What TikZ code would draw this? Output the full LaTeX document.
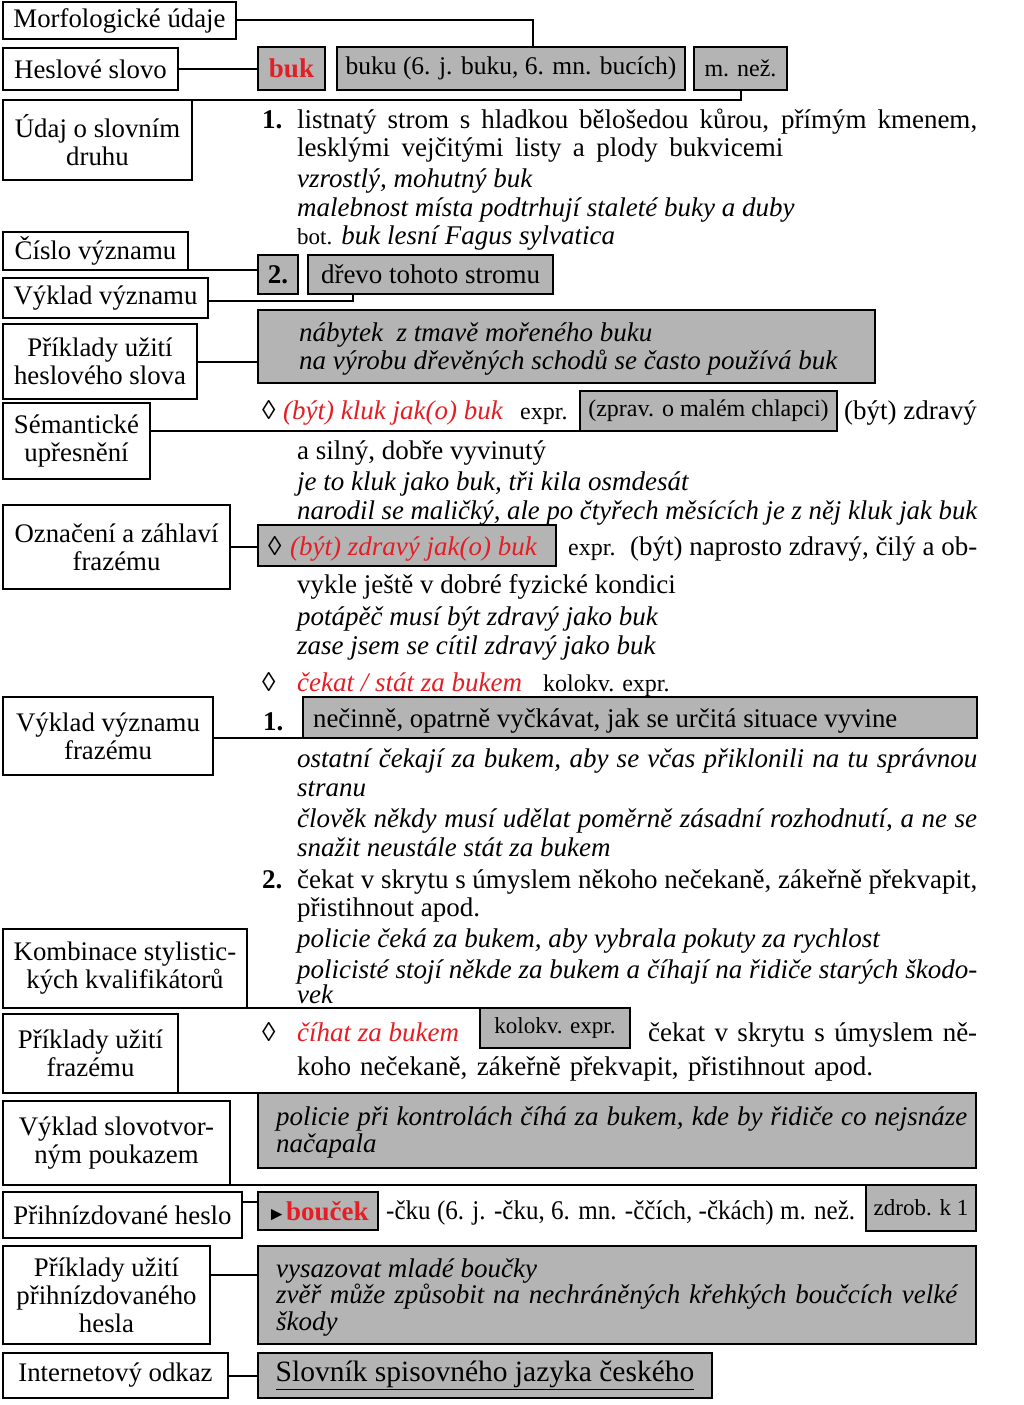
\documentclass[tikz,border=0pt]{standalone}
\usepackage{fontspec}
\setmainfont{Liberation Serif}
\usepackage{graphicx}
\usetikzlibrary{calc}
\definecolor{gr}{RGB}{180,180,180}
\definecolor{rd}{RGB}{228,30,36}
\newcommand\fitto[2]{\setbox0=\hbox{#2}\ifdim\wd0<#1\relax\makebox[#1][s]{#2}\else\resizebox{#1}{\height}{\copy0}\fi}
\newcommand\lbox[6]{\pgfmathsetmacro\ww{#4-#2}\pgfmathsetmacro\hh{#5-#3}\node[lab,minimum width=\ww pt,minimum height=\hh pt] (#1) at (#2,#3) {#6};}
\newcommand\gbox[6]{\pgfmathsetmacro\ww{#4-#2}\pgfmathsetmacro\hh{#5-#3}\node[gb,minimum width=\ww pt,minimum height=\hh pt] (#1) at (#2,#3) {#6};}
\tikzset{
  lab/.style={draw, line width=2pt, fill=white, align=center, inner sep=0pt, outer sep=0pt, font=\fontsize{26.8}{28}\selectfont, anchor=north west},
  gb/.style={draw, line width=2.2pt, fill=gr, inner sep=0pt, outer sep=0pt, anchor=north west, font=\fontsize{27}{29}\selectfont},
  conn/.style={line width=2pt},
  tx/.style={anchor=base west, inner sep=0pt, font=\fontsize{27}{29}\selectfont},
  txe/.style={anchor=base east, inner sep=0pt, font=\fontsize{27}{29}\selectfont},
  sm/.style={font=\fontsize{24}{26}\selectfont},
  it/.style={font=\fontsize{27}{29}\selectfont\itshape},
  red/.style={text=rd}
}
\begin{document}
\begin{tikzpicture}[x=1pt,y=-1pt]
\fill[white] (0,0) rectangle (1024,1405);
\useasboundingbox (0,0) rectangle (1024,1405);

% ---------- label boxes ----------
\lbox{morf}{3}{2}{236}{39}{Morfologické údaje}
\lbox{hesl}{3}{48}{178}{90}{Heslové slovo}
\lbox{udaj}{3}{100}{192}{180}{Údaj o slovním\\druhu}
\lbox{cislo}{3}{232}{188}{270}{Číslo významu}
\lbox{vykl}{3}{278}{208}{318}{Výklad významu}
\lbox{prik}{3}{324}{197}{399}{Příklady užití\\heslového slova}
\lbox{sem}{3}{403}{150}{479}{Sémantické\\upřesnění}
\lbox{ozn}{3}{505}{230}{589}{Označení a záhlaví\\frazému}
\lbox{vyklf}{3}{697}{213}{775}{Výklad významu\\frazému}
\lbox{komb}{3}{929}{247}{1008}{Kombinace stylistic-\\kých kvalifikátorů}
\lbox{prikf}{3}{1014}{178}{1093}{Příklady užití\\frazému}
\lbox{slovot}{3}{1101}{230}{1185}{Výklad slovotvor-\\ným poukazem}
\lbox{prihn}{3}{1192}{242}{1238}{Přihnízdované heslo}
\lbox{prikp}{3}{1246}{210}{1344}{Příklady užití\\přihnízdovaného\\hesla}
\lbox{inet}{3}{1353}{228}{1398}{Internetový odkaz}

% ---------- grey boxes ----------
\gbox{gbuk}{258}{47}{325}{90}{\textbf{\color{rd}buk}}
\gbox{gbuku}{337}{47}{685}{90}{\fontsize{25.5}{27}\selectfont buku (6. j. buku, 6. mn. bucích)}
\gbox{gmnez}{694}{47}{787}{90}{\fontsize{24}{26}\selectfont m. než.}
\gbox{gdva}{258}{255}{298}{294}{\textbf{2.}}
\gbox{gdrevo}{308}{255}{553}{294}{dřevo tohoto stromu}
\gbox{gnab}{258}{310}{875}{383}{}
\gbox{gzprav}{580}{391}{837}{431}{\fontsize{24}{26}\selectfont (zprav. o malém chlapci)}
\gbox{gzdrav}{258}{525}{556}{566}{}
\gbox{gnec}{303}{697}{977}{738}{}
\gbox{gkol}{480}{1008}{630}{1048}{\fontsize{23}{25}\selectfont kolokv. expr.}
\gbox{gpol}{258}{1093}{976}{1168}{}
\gbox{gbou}{258}{1192}{378}{1230}{{\fontsize{19}{20}\selectfont ►}\textbf{\color{rd}bouček}}
\gbox{gzdrob}{866}{1185}{976}{1231}{\fontsize{23}{25}\selectfont zdrob. k 1}
\gbox{gvys}{258}{1246}{976}{1344}{}
\gbox{gslov}{258}{1353}{712}{1398}{\fontsize{29.5}{31}\selectfont\underline{Slovník spisovného jazyka českého}}

% ---------- connectors ----------
\draw[conn] (morf.east) -| ([xshift=196pt]gbuku.north west);
\draw[conn] (hesl.east) -- (hesl.east -| gbuk.west);
\draw[conn] (udaj.north east) -| (gmnez.south);
\draw[conn] (cislo.south east) -- (cislo.south east -| gdva.west);
\draw[conn] ([yshift=-3pt]vykl.east) -| ([xshift=45pt]gdrevo.south west);
\draw[conn] (prik.east) -- (prik.east -| gnab.west);
\draw[conn] (gzprav.south west) -- (gzprav.south west -| sem.east);
\draw[conn] (ozn.east) -- (ozn.east -| gzdrav.west);
\draw[conn] (gnec.south west) -- (gnec.south west -| vyklf.east);
\draw[conn] (komb.south east) -- (gkol.north west);
\draw[conn] (prikf.south east) -- (gpol.north west);
\draw[conn] (slovot.south east) -- (gzdrob.north west);
\draw[conn] ([yshift=9pt]gbou.west) -- ([yshift=9pt]gbou.west -| prihn.east);
\draw[conn] ([yshift=20pt]gvys.west) -- ([yshift=20pt]gvys.west -| prikp.east);
\draw[conn] (inet.east) -- (inet.east -| gslov.west);

% ---------- sense 1 ----------
\node[tx] (a1) at (262,128) {\textbf{1.}};
\node[tx] (a2) at (297,128) {\fitto{680pt}{listnatý strom s hladkou bělošedou kůrou, přímým kmenem,}};
\node[tx] (a3) at (297,156) {\fitto{486pt}{lesklými vejčitými listy a plody bukvicemi}};
\node[tx,it] (a4) at (297,187) {vzrostlý, mohutný buk};
\node[tx,it] (a5) at (297,216) {malebnost místa podtrhují staleté buky a duby};
\node[tx] (a6) at (297,244) {{\fontsize{23}{25}\selectfont bot.} \textit{buk lesní Fagus sylvatica}};

% ---------- sense 2 ----------
\node[tx,it] (b1) at (299,341) {nábytek\ \ z tmavě mořeného buku};
\node[tx,it] (b2) at (299,369) {na výrobu dřevěných schodů se často používá buk};

% ---------- phrase 1 ----------
\node[tx] (c1) at (262,419) {◊};
\node[tx,it,red] (c2) at (283,419) {(být) kluk jak(o) buk};
\node[tx,sm] (c3) at (520,419) {expr.};
\node[txe] (c4) at (977,419) {(být) zdravý};
\node[tx] (c5) at (297,459) {a silný, dobře vyvinutý};
\node[tx,it] (c6) at (297,490) {je to kluk jako buk, tři kila osmdesát};
\node[tx,it] (c7) at (297,519) {\fitto{680pt}{narodil se maličký, ale po čtyřech měsících je z něj kluk jak buk}};

% ---------- phrase 2 ----------
\node[tx] (d1) at (268,555) {◊};
\node[tx,it,red] (d2) at (290,555) {(být) zdravý jak(o) buk};
\node[tx,sm] (d3) at (568,555) {expr.};
\node[tx] (d4) at (630,555) {\fitto{347pt}{(být) naprosto zdravý, čilý a ob-}};
\node[tx] (d5) at (297,593) {vykle ještě v dobré fyzické kondici};
\node[tx,it] (d6) at (297,625) {potápěč musí být zdravý jako buk};
\node[tx,it] (d7) at (297,654) {zase jsem se cítil zdravý jako buk};

% ---------- phrase 3 ----------
\node[tx] (e1) at (262,691) {◊};
\node[tx,it,red] (e2) at (297,691) {čekat / stát za bukem};
\node[tx,sm] (e3) at (543,691) {kolokv. expr.};
\node[tx] (e4) at (263,730) {\textbf{1.}};
\node[tx] (e5) at (313,727) {\fitto{584pt}{nečinně, opatrně vyčkávat, jak se určitá situace vyvine}};
\node[tx,it] (e6) at (297,767) {\fitto{680pt}{ostatní čekají za bukem, aby se včas přiklonili na tu správnou}};
\node[tx,it] (e7) at (297,796) {stranu};
\node[tx,it] (e8) at (297,827) {\fitto{680pt}{člověk někdy musí udělat poměrně zásadní rozhodnutí, a ne se}};
\node[tx,it] (e9) at (297,856) {snažit neustále stát za bukem};
\node[tx] (e10) at (262,888) {\textbf{2.}};
\node[tx] (e11) at (297,888) {\fitto{680pt}{čekat v skrytu s úmyslem někoho nečekaně, zákeřně překvapit,}};
\node[tx] (e12) at (297,916) {přistihnout apod.};
\node[tx,it] (e13) at (297,947) {policie čeká za bukem, aby vybrala pokuty za rychlost};
\node[tx,it] (e14) at (297,978) {\fitto{680pt}{policisté stojí někde za bukem a číhají na řidiče starých škodo-}};
\node[tx,it] (e15) at (297,1003) {vek};

% ---------- phrase 4 ----------
\node[tx] (f1) at (262,1041) {◊};
\node[tx,it,red] (f2) at (297,1041) {číhat za bukem};
\node[tx] (f3) at (648,1041) {\fitto{329pt}{čekat v skrytu s úmyslem ně-}};
\node[tx] (f4) at (297,1075) {\fitto{576pt}{koho nečekaně, zákeřně překvapit, přistihnout apod.}};
\node[tx,it] (f5) at (276,1125) {\fitto{691pt}{policie při kontrolách číhá za bukem, kde by řidiče co nejsnáze}};
\node[tx,it] (f6) at (276,1152) {načapala};

% ---------- nested entry ----------
\node[tx] (g1) at (386,1219) {\fitto{469pt}{-čku (6. j. -čku, 6. mn. -ččích, -čkách) m. než.}};
\node[tx,it] (g2) at (276,1277) {vysazovat mladé boučky};
\node[tx,it] (g3) at (276,1303) {\fitto{681pt}{zvěř může způsobit na nechráněných křehkých boučcích velké}};
\node[tx,it] (g4) at (276,1330) {škody};
\end{tikzpicture}
\end{document}
